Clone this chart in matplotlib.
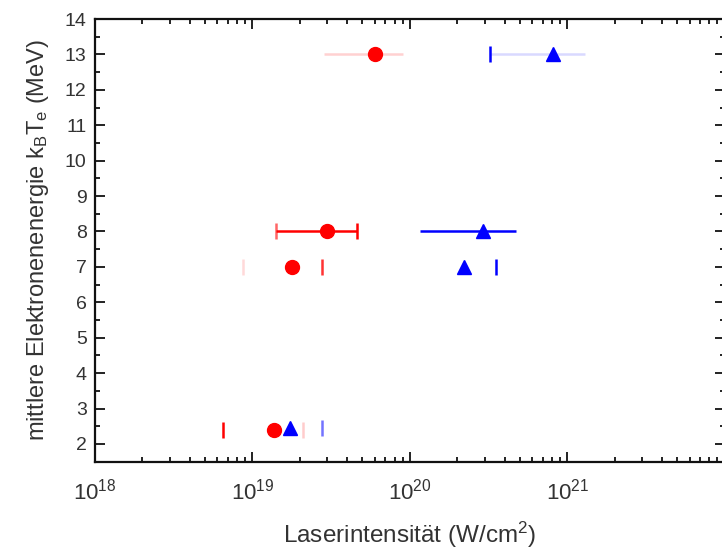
import numpy as np
import matplotlib
matplotlib.use("Agg")
import matplotlib.pyplot as plt
from matplotlib.ticker import FixedLocator, FixedFormatter, LogLocator, MultipleLocator, NullFormatter

plt.rcParams['font.family'] = ['Liberation Sans', 'DejaVu Sans']
plt.rcParams['mathtext.fontset'] = 'custom'
plt.rcParams['mathtext.rm'] = 'Liberation Sans'
plt.rcParams['mathtext.it'] = 'Liberation Sans'

# circles (red) and triangles (blue): intensity, mean energy, error range
red_I = [6.0e19, 3.0e19, 1.78e19, 1.37e19]
red_E = [13, 8, 7, 2.4]
red_lo = [2.87e19, 1.41e19, 8.7e18, 6.5e18]
red_hi = [9.1e19, 4.6e19, 2.78e19, 2.1e19]

blue_I = [8.1e20, 2.93e20, 2.22e20, 1.73e19]
blue_E = [13, 8, 7, 2.45]
blue_lo = [3.24e20, 1.16e20, 1.6e20, 1.2e19]
blue_hi = [1.3e21, 4.7e20, 3.53e20, 2.78e19]

# visibility of bar / left cap / right cap for each point
red_alpha = [(0.18, 0.0, 0.0), (1.0, 0.6, 1.0), (0.0, 0.15, 0.8), (0.0, 1.0, 0.2)]
blue_alpha = [(0.15, 1.0, 0.0), (1.0, 0.0, 0.0), (0.0, 0.0, 1.0), (0.0, 0.0, 0.55)]

x_ticks = [1e18, 1e19, 1e20, 1e21]
x_labels = [r"$10^{18}$", r"$10^{19}$", r"$10^{20}$", r"$10^{21}$"]
y_ticks = list(range(2, 15))

fig = plt.figure(figsize=(7.22, 5.57), dpi=100)
ax = fig.add_axes([95 / 722, 95.3 / 557, 629.6 / 722, 442.7 / 557])


def draw(I, E, lo, hi, alphas, marker, color):
    for x, y, a, b, (bar_a, capl_a, capr_a) in zip(I, E, lo, hi, alphas):
        line, caps, bars = ax.errorbar([x], [y], xerr=[[x - a], [b - x]], fmt=marker,
                                       color=color, ms=10, elinewidth=1.8,
                                       capsize=5.5, capthick=1.8)
        bars[0].set_alpha(bar_a)
        caps[0].set_alpha(capl_a)
        caps[1].set_alpha(capr_a)


draw(red_I, red_E, red_lo, red_hi, red_alpha, 'o', '#ff0000')
draw(blue_I, blue_E, blue_lo, blue_hi, blue_alpha, '^', '#0000ff')

ax.set_xscale('log')
ax.set_xlim(1e18, 1e22)
ax.set_ylim(1.5, 14)

ax.xaxis.set_major_locator(FixedLocator(x_ticks + [1e22]))
ax.xaxis.set_major_formatter(FixedFormatter(x_labels + [""]))
ax.xaxis.set_minor_locator(LogLocator(base=10, subs=np.arange(2, 10), numticks=20))
ax.xaxis.set_minor_formatter(NullFormatter())
ax.yaxis.set_major_locator(FixedLocator(y_ticks))
ax.yaxis.set_minor_locator(MultipleLocator(0.5))

ax.tick_params(which='both', direction='in', top=True, right=True, width=1.3, colors='#111111',
               labelcolor='#333333')
ax.tick_params(which='major', length=7)
ax.tick_params(which='minor', length=3.5)
ax.tick_params(axis='y', labelsize=14, pad=6)
ax.tick_params(axis='x', labelsize=16, pad=12)
for s in ax.spines.values():
    s.set_linewidth(1.6)
    s.set_color('#111111')

ax.set_xlabel("Laserintensität (W/cm$^2$)", fontsize=17.5, color='#333333', labelpad=11)
ax.set_ylabel(r"mittlere Elektronenenergie k$_\mathrm{B}$T$_\mathrm{e}$ (MeV)", fontsize=17,
              color='#333333', labelpad=10)

fig.savefig("out.png", dpi=100)
